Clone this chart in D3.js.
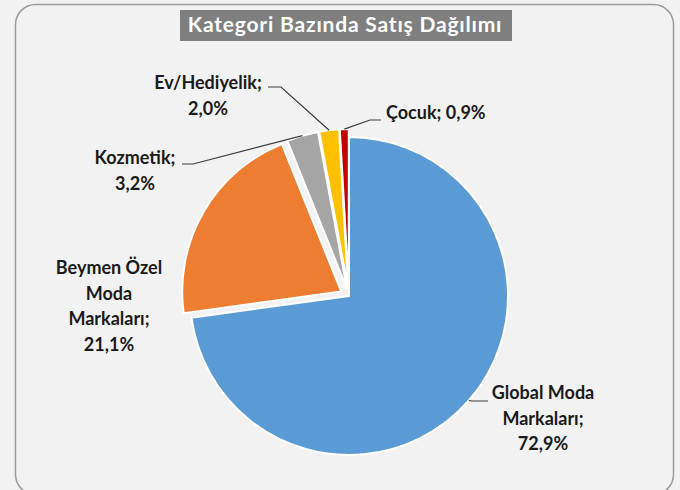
<!DOCTYPE html>
<html><head><meta charset="utf-8">
<script src="https://cdn.jsdelivr.net/npm/d3@7"></script>
<style>html,body{margin:0;padding:0;background:#f2f2f2;}svg{display:block;}</style>
</head><body>
<svg id="c" width="680" height="490"></svg>
<script>
const categories = ["Global Moda Markaları", "Beymen Özel Moda Markaları", "Kozmetik", "Ev/Hediyelik", "Çocuk"];
const values = [72.9, 21.1, 3.2, 2.0, 0.9];
const valueLabels = ["72,9%", "21,1%", "3,2%", "2,0%", "0,9%"];
const labelLines = [["Global Moda", "Markaları;", "72,9%"], ["Beymen Özel", "Moda", "Markaları;", "21,1%"], ["Kozmetik;", "3,2%"], ["Ev/Hediyelik;", "2,0%"], ["Çocuk; 0,9%"]];
const colors = ["#5b9bd5", "#ed7d31", "#a5a5a5", "#ffc000", "#c00000"];
const title = "Kategori Bazında Satış Dağılımı";

const svg = d3.select("#c");
svg.append("rect").attr("x", 15.5).attr("y", 4.5).attr("width", 658).attr("height", 490).attr("rx", 20)
  .attr("fill", "#f2f2f2").attr("stroke", "#9a9a9a").attr("stroke-width", 1.5);

svg.append("rect").attr("x", 180).attr("y", 10).attr("width", 332).attr("height", 31).attr("fill", "#7f7f7f");
svg.append("text").attr("x", 345).attr("y", 32).attr("text-anchor", "middle")
  .attr("font-family", "Lato, sans-serif").attr("font-weight", 700).attr("font-size", 21)
  .attr("letter-spacing", 0.8).attr("fill", "#fff").text(title);

const cx = 349, cy = 296, R = 159;
const explode = [0, 9, 8, 8, 8];
const pie = d3.pie().sort(null).value(d => d)(values);
const arc = d3.arc().innerRadius(0).outerRadius(R);
const g = svg.append("g").attr("transform", `translate(${cx},${cy})`);

function off(d, i) {
  const a = (d.startAngle + d.endAngle) / 2;
  return [Math.sin(a) * explode[i], -Math.cos(a) * explode[i]];
}
g.selectAll("path").data(pie).join("path")
  .attr("d", arc)
  .attr("transform", (d, i) => { const o = off(d, i); return `translate(${o[0]},${o[1]})`; })
  .attr("fill", (d, i) => colors[i])
  .attr("stroke", "#ffffff").attr("stroke-width", 2).attr("stroke-linejoin", "round");

// label layout (text centre positions, relative to page)
const labelPos = [
  {x: 543, y: 393, anchor: "middle", elbow: [[472, 401], [488, 401]]},
  {x: 109, y: 268, anchor: "middle", elbow: null},
  {x: 135, y: 158, anchor: "middle", elbow: [[193, 164], [182, 164]]},
  {x: 208, y: 83, anchor: "middle", elbow: [[281, 87], [268, 87]]},
  {x: 386, y: 113, anchor: "start", elbow: [[370, 120], [381, 120]]}
];
const lh = 25.5;
pie.forEach((d, i) => {
  const p = labelPos[i];
  const t = svg.append("text").attr("text-anchor", p.anchor)
    .attr("font-family", "Lato, sans-serif").attr("font-weight", 700).attr("font-size", 18).attr("fill", "#1a1a1a");
  labelLines[i].forEach((ln, k) => {
    t.append("tspan").attr("x", p.x).attr("y", p.y + k * lh).attr("dy", "0.36em").text(ln);
  });
  if (p.elbow) {
    const a = (d.startAngle + d.endAngle) / 2;
    const o = off(d, i);
    const sx = cx + o[0] + Math.sin(a) * R, sy = cy + o[1] - Math.cos(a) * R;
    const pts = [[sx, sy], ...p.elbow];
    svg.append("path").attr("d", d3.line()(pts)).attr("fill", "none").attr("stroke", "#3c3c3c").attr("stroke-width", 1.2);
  }
});
</script>
</body></html>
